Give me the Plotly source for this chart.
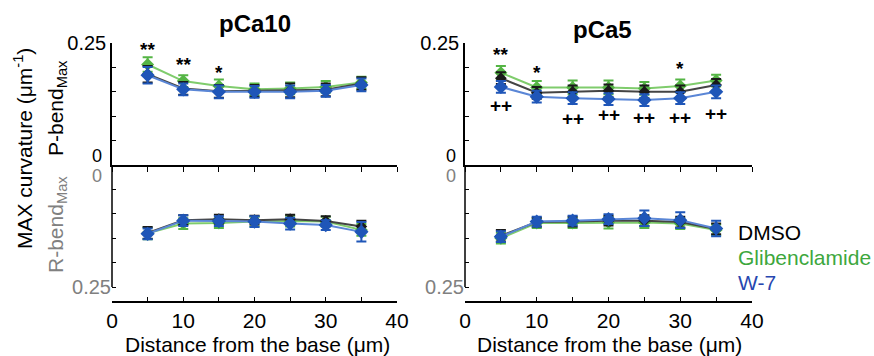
import plotly.graph_objects as go

W, H = 874, 356
def px(x): return x / W
def py(y): return 1 - y / H

distance = [5, 10, 15, 20, 25, 30, 35]
series_names = ["DMSO", "Glibenclamide", "W-7"]

# P-bend Max, pCa10
p10_dmso = [0.186, 0.157, 0.151, 0.152, 0.153, 0.154, 0.167]
p10_dmso_err = [0.017, 0.013, 0.013, 0.012, 0.014, 0.013, 0.013]
p10_gli = [0.206, 0.172, 0.162, 0.155, 0.157, 0.160, 0.169]
p10_gli_err = [0.015, 0.012, 0.013, 0.012, 0.012, 0.012, 0.012]
p10_w7 = [0.184, 0.155, 0.150, 0.150, 0.150, 0.152, 0.164]
p10_w7_err = [0.017, 0.012, 0.013, 0.012, 0.013, 0.012, 0.013]

# P-bend Max, pCa5
p5_dmso = [0.178, 0.148, 0.150, 0.152, 0.150, 0.150, 0.164]
p5_dmso_err = [0.012, 0.012, 0.013, 0.013, 0.013, 0.013, 0.012]
p5_gli = [0.189, 0.159, 0.159, 0.159, 0.157, 0.162, 0.173]
p5_gli_err = [0.014, 0.013, 0.014, 0.014, 0.013, 0.013, 0.012]
p5_w7 = [0.160, 0.140, 0.137, 0.135, 0.133, 0.137, 0.150]
p5_w7_err = [0.012, 0.012, 0.012, 0.012, 0.012, 0.012, 0.013]

# R-bend Max, pCa10
r10_dmso = [0.139, 0.113, 0.111, 0.113, 0.111, 0.115, 0.126]
r10_dmso_err = [0.012, 0.010, 0.009, 0.009, 0.009, 0.010, 0.012]
r10_gli = [0.140, 0.120, 0.119, 0.116, 0.115, 0.116, 0.133]
r10_gli_err = [0.012, 0.011, 0.010, 0.010, 0.011, 0.010, 0.012]
r10_w7 = [0.141, 0.114, 0.115, 0.116, 0.120, 0.123, 0.137]
r10_w7_err = [0.011, 0.011, 0.010, 0.011, 0.012, 0.010, 0.020]

# R-bend Max, pCa5
r5_dmso = [0.145, 0.117, 0.116, 0.114, 0.114, 0.117, 0.131]
r5_dmso_err = [0.012, 0.009, 0.010, 0.010, 0.011, 0.011, 0.011]
r5_gli = [0.150, 0.119, 0.119, 0.118, 0.118, 0.120, 0.133]
r5_gli_err = [0.011, 0.010, 0.010, 0.012, 0.011, 0.011, 0.011]
r5_w7 = [0.147, 0.116, 0.114, 0.111, 0.109, 0.113, 0.130]
r5_w7_err = [0.011, 0.010, 0.010, 0.010, 0.016, 0.016, 0.016]

# significance marks: (x, y, text)
sig_p10 = [(5, 0.236, "**"), (10, 0.206, "**"), (15, 0.190, "*")]
sig_p5 = [(5, 0.226, "**"), (10, 0.190, "*"), (30, 0.198, "*"),
          (5, 0.122, "++"), (15, 0.096, "++"), (20, 0.104, "++"),
          (25, 0.097, "++"), (30, 0.097, "++"), (35, 0.106, "++")]

x_ticks = [0, 5, 10, 15, 20, 25, 30, 35, 40]
x_ticktext = ["0", "", "10", "", "20", "", "30", "", "40"]
y_ticks = [0, 0.05, 0.10, 0.15, 0.20, 0.25]

LINE = {"DMSO": "#444444", "Glibenclamide": "#7fcc6c", "W-7": "#5a86d6"}
MARK = {"DMSO": "#1a1a1a", "Glibenclamide": "#55b545", "W-7": "#1f56b8"}
SIZE = {"DMSO": 9, "Glibenclamide": 10, "W-7": 11}

panels = [
    ("x", "y", {"DMSO": (p10_dmso, p10_dmso_err), "Glibenclamide": (p10_gli, p10_gli_err), "W-7": (p10_w7, p10_w7_err)}),
    ("x2", "y2", {"DMSO": (p5_dmso, p5_dmso_err), "Glibenclamide": (p5_gli, p5_gli_err), "W-7": (p5_w7, p5_w7_err)}),
    ("x3", "y3", {"DMSO": (r10_dmso, r10_dmso_err), "Glibenclamide": (r10_gli, r10_gli_err), "W-7": (r10_w7, r10_w7_err)}),
    ("x4", "y4", {"DMSO": (r5_dmso, r5_dmso_err), "Glibenclamide": (r5_gli, r5_gli_err), "W-7": (r5_w7, r5_w7_err)}),
]

fig = go.Figure()
for xa, ya, data in panels:
    for name in ["Glibenclamide", "DMSO", "W-7"]:
        vals, errs = data[name]
        fig.add_trace(go.Scatter(
            x=distance, y=vals, xaxis=xa, yaxis=ya, name=name, showlegend=False,
            mode="lines+markers",
            line=dict(color=LINE[name], width=2),
            marker=dict(symbol="diamond", size=SIZE[name], color=MARK[name]),
            error_y=dict(type="data", array=errs, visible=True, color=MARK[name], thickness=2, width=5),
        ))

xl = [px(112), px(397)]
xr = [px(465), px(752)]
yt = [py(165), py(43)]
yb = [py(301), py(165)]
bottom_range = 0.25 * (301 - 165) / 122
FONT = "Liberation Sans, Arial"

def xaxis_top(domain, anchor):
    return dict(domain=domain, anchor=anchor, range=[0, 40], showline=True, linecolor="black", linewidth=1.5,
                ticks="outside", ticklen=5, tickcolor="black", tickvals=x_ticks, showticklabels=False,
                showgrid=False, zeroline=False, automargin=False)

def xaxis_bot(domain, anchor):
    return dict(domain=domain, anchor=anchor, range=[0, 40], showline=True, linecolor="black", linewidth=1.5,
                ticks="inside", ticklen=4, tickcolor="black", tickvals=x_ticks, ticktext=x_ticktext,
                tickfont=dict(family=FONT, size=21, color="black"),
                showgrid=False, zeroline=False, automargin=False)

def yaxis_top(domain, anchor):
    return dict(domain=domain, anchor=anchor, range=[0, 0.25], showline=True, linecolor="black", linewidth=1.5,
                ticks="inside", ticklen=4, tickcolor="black", tickvals=y_ticks,
                ticktext=["", "", "", "", "", "0.25"],
                tickfont=dict(family=FONT, size=20, color="black"),
                showgrid=False, zeroline=False, automargin=False)

def yaxis_bot(domain, anchor):
    return dict(domain=domain, anchor=anchor, range=[bottom_range, 0], showline=False,
                ticks="inside", ticklen=4, tickcolor="black", tickvals=y_ticks,
                ticktext=["", "", "", "", "", "0.25"],
                tickfont=dict(family=FONT, size=20, color="#808080"),
                showgrid=False, zeroline=False, automargin=False)

fig.update_layout(
    width=W, height=H, margin=dict(l=0, r=0, t=0, b=0),
    paper_bgcolor="white", plot_bgcolor="white", showlegend=False,
    font=dict(family=FONT, color="black"),
    xaxis=xaxis_top(xl, "y"), yaxis=yaxis_top(yt, "x"),
    xaxis2=xaxis_top(xr, "y2"), yaxis2=yaxis_top(yt, "x2"),
    xaxis3=xaxis_bot(xl, "y3"), yaxis3=yaxis_bot(yb, "x3"),
    xaxis4=xaxis_bot(xr, "y4"), yaxis4=yaxis_bot(yb, "x4"),
)

# bottom panels' y-axis lines run only from 0 to 0.25
for xa, ya in [("x3", "y3"), ("x4", "y4")]:
    fig.add_shape(type="line", xref=f"{xa} domain", yref=ya, x0=0, x1=0, y0=0, y1=0.25,
                  line=dict(color="black", width=1.5))

ann = []
def A(text, x, y, size=20, color="black", xanchor="center", yanchor="middle", angle=0, bold=False):
    if bold:
        text = f"<b>{text}</b>"
    ann.append(dict(text=text, x=x, y=y, xref="paper", yref="paper", showarrow=False,
                    xanchor=xanchor, yanchor=yanchor, textangle=angle,
                    font=dict(size=size, color=color, family=FONT)))

A("pCa10", px(255), py(24), size=24, bold=True)
A("pCa5", px(602), py(30), size=24, bold=True)
A("0", px(104), py(156), size=18, xanchor="right")
A("0", px(104), py(176), size=18, color="#808080", xanchor="right")
A("0", px(458), py(156), size=18, xanchor="right")
A("0", px(458), py(176), size=18, color="#808080", xanchor="right")
A("Distance from the base (μm)", px(257), py(344), size=21)
A("Distance from the base (μm)", px(609), py(344), size=21)
A("MAX curvature (μm<sup>-1</sup>)", px(23), py(149), size=21, angle=-90)
A("P-bend<sub>Max</sub>", px(57), py(108), size=21, angle=-90)
A("R-bend<sub>Max</sub>", px(57), py(225), size=21, color="#808080", angle=-90)
A("DMSO", px(736), py(232), size=21, color="black", xanchor="left")
A("Glibenclamide", px(736), py(257), size=21, color="#3da73d", xanchor="left")
A("W-7", px(736), py(282), size=21, color="#2747b0", xanchor="left")

for xa, ya, marks in [("x", "y", sig_p10), ("x2", "y2", sig_p5)]:
    for xv, yv, t in marks:
        ann.append(dict(text=f"<b>{t}</b>", x=xv, y=yv, xref=xa, yref=ya, showarrow=False,
                        xanchor="center", yanchor="middle",
                        font=dict(size=19, color="black", family=FONT)))

fig.update_layout(annotations=ann)
fig.write_html("out.html", config={"displayModeBar": False},
               post_script="document.body.style.margin='0';document.body.style.overflow='hidden';")
